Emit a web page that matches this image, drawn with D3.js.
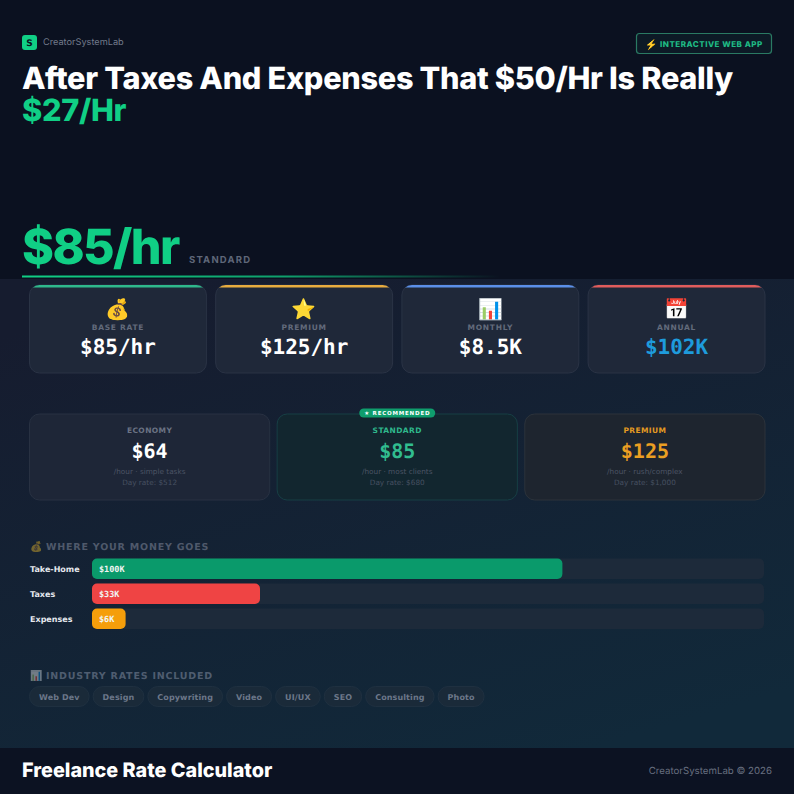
<!DOCTYPE html>
<html>
<head>
<meta charset="utf-8">
<script src="https://cdn.jsdelivr.net/npm/d3@7"></script>
<style>
html, body { margin: 0; padding: 0; background: #0b1120; overflow: hidden; }
svg { display: block; }
text { text-rendering: geometricPrecision; }
</style>
</head>
<body>
<div id="chart"></div>
<script>
// values
const statLabels = ['BASE RATE', 'PREMIUM', 'MONTHLY', 'ANNUAL']
const statValues = ['$85/hr', '$125/hr', '$8.5K', '$102K']
const statIcons = ['💰', '⭐', '📊', '📅']
const tierNames = ['ECONOMY', 'STANDARD', 'PREMIUM']
const tierRates = ['$64', '$85', '$125']
const tierNotes = ['/hour · simple tasks', '/hour · most clients', '/hour · rush/complex']
const tierDays = ['Day rate: $512', 'Day rate: $680', 'Day rate: $1,000']
const moneyNames = ['Take-Home', 'Taxes', 'Expenses']
const moneyLabels = ['$100K', '$33K', '$6K']
const moneyShares = [70, 25, 5]
const industries = ['Web Dev', 'Design', 'Copywriting', 'Video', 'UI/UX', 'SEO', 'Consulting', 'Photo']

const size = 794
const sans = '"DejaVu Sans", sans-serif'
const mono = '"DejaVu Sans Mono", monospace'
const display = 'Inter, sans-serif'
const emoji = '"Noto Color Emoji", sans-serif'
const green = '#10cf85'
const statColors = ['#2fb88c', '#e8ac3f', '#5b8fe8', '#e05c5c']
const tierColors = ['#6b7384', '#2fb98c', '#e39a22']
const tierRateColors = ['#ffffff', '#31bd8f', '#eb9f22']
const moneyColors = ['#0a9a6b', '#ef4444', '#f59e0b']

const svg = d3.select('#chart').append('svg')
    .attr('width', size)
    .attr('height', size)
    .attr('viewBox', `0 0 ${size} ${size}`)

const defs = svg.append('defs')
const panelGrad = defs.append('linearGradient')
    .attr('id', 'panel')
    .attr('x1', '0.25').attr('y1', '0').attr('x2', '0.75').attr('y2', '1')
panelGrad.append('stop').attr('offset', '0').attr('stop-color', '#161c2f')
panelGrad.append('stop').attr('offset', '1').attr('stop-color', '#11293a')
const ruleGrad = defs.append('linearGradient').attr('id', 'rule')
ruleGrad.append('stop').attr('offset', '0').attr('stop-color', green)
ruleGrad.append('stop').attr('offset', '0.55').attr('stop-color', green).attr('stop-opacity', 0.75)
ruleGrad.append('stop').attr('offset', '1').attr('stop-color', green).attr('stop-opacity', 0)

function label(g, str, x, y, font, fontSize, weight, fill, spacing, anchor) {
    return g.append('text')
        .attr('x', x).attr('y', y)
        .attr('text-anchor', anchor || 'start')
        .style('font-family', font)
        .style('font-size', fontSize + 'px')
        .style('font-weight', weight)
        .style('letter-spacing', (spacing || 0) + 'px')
        .attr('fill', fill)
        .text(str)
}

// backgrounds
svg.append('rect').attr('width', size).attr('height', size).attr('fill', '#0b1120')
svg.append('rect').attr('y', 279).attr('width', size).attr('height', 469).attr('fill', 'url(#panel)')
svg.append('rect').attr('y', 748).attr('width', size).attr('height', 46).attr('fill', '#0c1222')

// header
svg.append('rect').attr('x', 22).attr('y', 35).attr('width', 15).attr('height', 15).attr('rx', 3).attr('fill', green)
label(svg, 'S', 29.5, 46, sans, 9, 700, '#0b1120', 0, 'middle')
label(svg, 'CreatorSystemLab', 43, 45, display, 9.2, 400, '#727a8b')
svg.append('rect').attr('x', 636.5).attr('y', 33.5).attr('width', 135).attr('height', 20).attr('rx', 3)
    .attr('fill', '#0d1a26').attr('stroke', '#2a7a63').attr('stroke-width', 1.2)
label(svg, '⚡', 645, 47.5, emoji, 10, 400, '#f5c542')
label(svg, 'INTERACTIVE WEB APP', 660, 47, display, 8, 800, '#1fbb85', 0.5)
label(svg, 'After Taxes And Expenses That $50/Hr Is Really', 22, 89, display, 30.7, 800, '#ffffff', -0.3)
label(svg, '$27/Hr', 22, 121, display, 30.7, 800, green, -0.3)

// hero rate
label(svg, '$85/hr', 22, 264, display, 48.5, 800, green, -1.6)
label(svg, 'STANDARD', 189, 263, display, 9.5, 700, '#5f6779', 1.2)
svg.append('rect').attr('x', 22).attr('y', 275.5).attr('width', 478).attr('height', 2).attr('fill', 'url(#rule)')

// stat cards
const statX = d3.scaleBand().domain(statLabels).range([29.5, 765]).paddingInner(0.05)
const stat = svg.selectAll('.stat').data(statLabels).enter()
    .append('g').attr('class', 'stat')
    .attr('transform', d => `translate(${statX(d)} 285)`)
const statW = statX.bandwidth()
stat.append('clipPath').attr('id', (d, i) => 'statclip' + i)
    .append('rect').attr('width', statW).attr('height', 88).attr('rx', 10)
stat.append('rect').attr('width', statW).attr('height', 88).attr('rx', 10)
    .attr('fill', '#1f2839').attr('stroke', '#2a3345')
stat.append('rect').attr('width', statW).attr('height', 2.5)
    .attr('clip-path', (d, i) => `url(#statclip${i})`)
    .attr('fill', (d, i) => statColors[i])
stat.each(function (d, i) {
    const g = d3.select(this)
    label(g, statIcons[i], statW / 2, 31, emoji, 20, 400, '#fff', 0, 'middle')
    label(g, d, statW / 2, 45, sans, 7.5, 700, '#636b7c', 0.7, 'middle')
    label(g, statValues[i], statW / 2, 69, mono, 21, 700, i === 3 ? '#1e9bdc' : '#ffffff', 0, 'middle')
})

// pricing tiers
const tierX = d3.scaleBand().domain(tierNames).range([29.5, 765]).paddingInner(0.03)
const tierW = tierX.bandwidth()
const tierFill = ['#1e2637', '#12262f', '#1e252f']
const tierStroke = ['#283142', '#173f45', '#2c333b']
const tier = svg.selectAll('.tier').data(tierNames).enter()
    .append('g').attr('class', 'tier')
    .attr('transform', d => `translate(${tierX(d)} 414)`)
tier.append('rect').attr('width', tierW).attr('height', 86).attr('rx', 10)
    .attr('fill', (d, i) => tierFill[i]).attr('stroke', (d, i) => tierStroke[i])
tier.each(function (d, i) {
    const g = d3.select(this)
    label(g, d, tierW / 2, 19, sans, 7.5, 700, tierColors[i], 0.4, 'middle')
    label(g, tierRates[i], tierW / 2, 44, mono, 20, 700, tierRateColors[i], 0, 'middle')
    label(g, tierNotes[i], tierW / 2, 60, sans, 7.3, 400, '#4c5465', 0, 'middle')
    label(g, tierDays[i], tierW / 2, 71, sans, 7.3, 400, '#465061', 0, 'middle')
})
const rec = svg.append('g').attr('transform', `translate(${tierX('STANDARD') + tierW / 2} 413)`)
rec.append('rect').attr('x', -38).attr('y', -4.5).attr('width', 76).attr('height', 9).attr('rx', 4.5).attr('fill', '#0f9d6d')
label(rec, '★ RECOMMENDED', 0, 2, sans, 5.5, 700, '#ffffff', 0.8, 'middle')

// where your money goes
label(svg, '💰', 30, 550, emoji, 10, 400, '#fff').attr('opacity', 0.4)
label(svg, 'WHERE YOUR MONEY GOES', 46, 550, sans, 9.5, 700, '#4f596b', 0.8)
const trackX = 92
const trackW = 672
const barX = d3.scaleLinear().domain([0, 100]).range([0, trackW])
const barY = d3.scaleBand().domain(moneyNames).range([558.5, 629]).paddingInner(0.18).paddingOuter(0).align(0)
const bar = svg.selectAll('.bar').data(moneyNames).enter()
    .append('g').attr('class', 'bar')
    .attr('transform', d => `translate(0 ${barY(d)})`)
const barH = barY.bandwidth()
bar.append('rect').attr('x', trackX).attr('width', trackW).attr('height', barH).attr('rx', 5).attr('fill', '#1d2a3a')
bar.append('rect').attr('x', trackX).attr('width', (d, i) => barX(moneyShares[i])).attr('height', barH).attr('rx', 5)
    .attr('fill', (d, i) => moneyColors[i])
bar.append('text').attr('x', 30).attr('y', barH / 2 + 3)
    .style('font-family', sans).style('font-size', '8px').style('font-weight', 700)
    .attr('fill', '#e6e9ee').text(d => d)
bar.append('text').attr('x', 99).attr('y', barH / 2 + 3)
    .style('font-family', mono).style('font-size', '8.5px').style('font-weight', 700)
    .attr('fill', '#f1f5f3').text((d, i) => moneyLabels[i])

// industry chips
label(svg, '📊', 30, 679, emoji, 10, 400, '#fff').attr('opacity', 0.4)
label(svg, 'INDUSTRY RATES INCLUDED', 46, 679, sans, 9.5, 700, '#4f5d70', 0.8)
let chipX = 29.5
industries.forEach(name => {
    const g = svg.append('g').attr('class', 'chip')
    const t = label(g, name, 0, 699.5, sans, 8, 700, '#6c7789', 0.12)
    const w = t.node().getComputedTextLength() + 19
    t.attr('x', chipX + 9.5)
    g.insert('rect', 'text').attr('x', chipX).attr('y', 686.5).attr('width', w).attr('height', 20).attr('rx', 10)
        .attr('fill', '#1a2a39').attr('stroke', '#1f3040')
    chipX += w + 4
})

// footer
label(svg, 'Freelance Rate Calculator', 22, 777, display, 19.8, 800, '#ffffff')
label(svg, 'CreatorSystemLab © 2026', 772, 774, display, 9.7, 400, '#676e7f', 0, 'end')
</script>
</body>
</html>
